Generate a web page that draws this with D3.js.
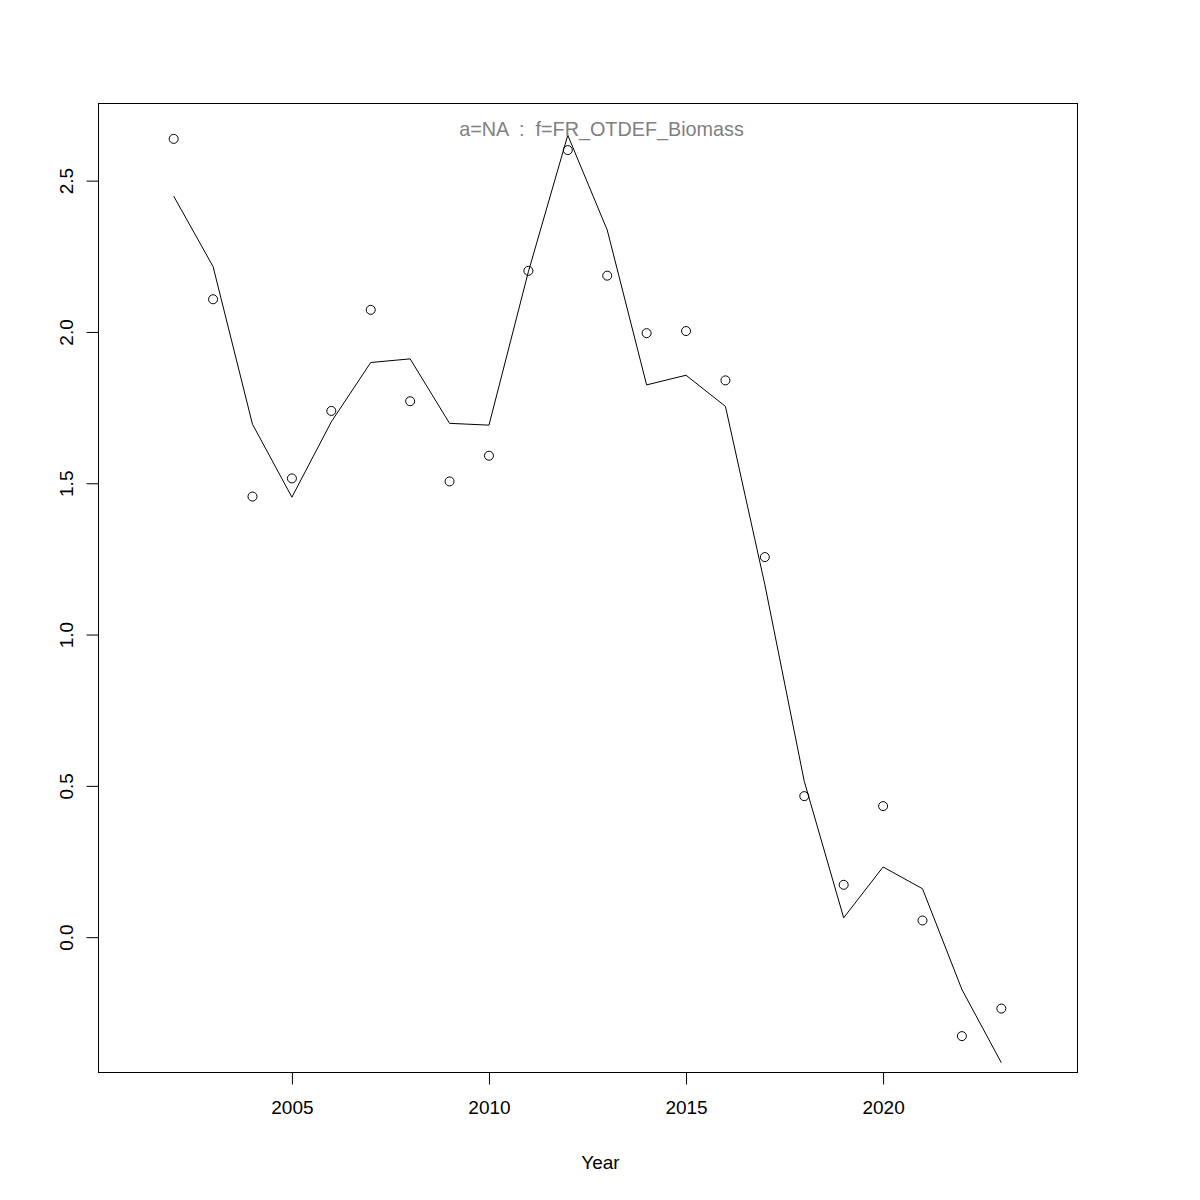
<!DOCTYPE html>
<html>
<head>
<meta charset="utf-8">
<script src="https://cdn.jsdelivr.net/npm/d3@7"></script>
<style>
  body { margin: 0; background: #fff; }
  svg { display: block; }
  text { font-family: "Liberation Sans", Arial, Helvetica, sans-serif; }
</style>
</head>
<body>
<svg id="chart" width="1200" height="1200"></svg>
<script>
// ---- data ----
const years = [2002, 2003, 2004, 2005, 2006, 2007, 2008, 2009, 2010, 2011, 2012,
               2013, 2014, 2015, 2016, 2017, 2018, 2019, 2020, 2021, 2022, 2023];
const observed = [2.638, 2.108, 1.456, 1.516, 1.739, 2.073, 1.771, 1.506, 1.591, 2.202, 2.601,
                  2.186, 1.996, 2.003, 1.840, 1.256, 0.466, 0.173, 0.433, 0.055, -0.327, -0.236];
const fitted = [2.449, 2.216, 1.695, 1.454, 1.703, 1.899, 1.911, 1.698, 1.692, 2.199, 2.650,
                2.337, 1.825, 1.857, 1.754, 1.165, 0.515, 0.064, 0.232, 0.160, -0.173, -0.415];
const xTicks = [2005, 2010, 2015, 2020];
const yTicks = [0.0, 0.5, 1.0, 1.5, 2.0, 2.5];
const titleText = "a=NA  :  f=FR_OTDEF_Biomass";
const xLabel = "Year";

// ---- layout ----
const pLeft = 98, pRight = 1077, pTop = 103, pBottom = 1072;
const ext = (lo, hi) => { const d = (hi - lo) * 0.04; return [lo - d, hi + d]; };
const xlim = ext(2001, 2024);
const ylim = ext(d3.min(observed), d3.max(observed));

const x = d3.scaleLinear().domain(xlim).range([pLeft, pRight]);
const y = d3.scaleLinear().domain(ylim).range([pBottom, pTop]);

const svg = d3.select("#chart");

// plot box
svg.append("rect")
  .attr("x", pLeft + 0.5).attr("y", pTop + 0.5)
  .attr("width", pRight - pLeft).attr("height", pBottom - pTop)
  .attr("fill", "none").attr("stroke", "#000").attr("stroke-width", 1);

// x axis
const gx = svg.append("g").attr("transform", `translate(0,${pBottom + 0.5})`)
  .call(d3.axisBottom(x).tickValues(xTicks).tickFormat(d3.format("d"))
        .tickSize(12).tickSizeOuter(0).tickPadding(16));
gx.select(".domain").attr("d", `M${x(xTicks[0])},0H${x(xTicks[xTicks.length - 1])}`)
  .attr("stroke", "#000");
gx.selectAll(".tick line").attr("stroke", "#000");
gx.selectAll(".tick text").attr("font-size", 19).attr("fill", "#000")
  .attr("font-family", "Liberation Sans, Arial, sans-serif");

// y axis
const gy = svg.append("g").attr("transform", `translate(${pLeft + 0.5},0)`)
  .call(d3.axisLeft(y).tickValues(yTicks).tickFormat(d3.format(".1f"))
        .tickSize(12).tickSizeOuter(0));
gy.select(".domain").attr("d", `M0,${y(yTicks[0])}V${y(yTicks[yTicks.length - 1])}`)
  .attr("stroke", "#000");
gy.selectAll(".tick line").attr("stroke", "#000");
gy.selectAll(".tick text")
  .attr("font-size", 19).attr("fill", "#000")
  .attr("font-family", "Liberation Sans, Arial, sans-serif")
  .attr("x", null).attr("dy", null)
  .attr("text-anchor", "middle")
  .attr("transform", "translate(-25.5,0) rotate(-90)");

// fitted line
svg.append("path")
  .datum(years.map((yr, i) => [yr, fitted[i]]))
  .attr("fill", "none").attr("stroke", "#000").attr("stroke-width", 1)
  .attr("d", d3.line().x(d => x(d[0])).y(d => y(d[1])));

// observed points
svg.append("g").selectAll("circle")
  .data(years.map((yr, i) => [yr, observed[i]]))
  .join("circle")
  .attr("cx", d => x(d[0])).attr("cy", d => y(d[1]))
  .attr("r", 4.5)
  .attr("fill", "none").attr("stroke", "#000").attr("stroke-width", 1);

// title (inside plot, gray)
svg.append("text")
  .attr("x", 601.5).attr("y", 135.5)
  .attr("text-anchor", "middle")
  .attr("font-size", 19.8).attr("fill", "#808080")
  .style("white-space", "pre")
  .attr("xml:space", "preserve")
  .text(titleText);

// x label
svg.append("text")
  .attr("x", (pLeft + pRight) / 2 + 13).attr("y", 1169)
  .attr("text-anchor", "middle")
  .attr("font-size", 19).attr("fill", "#000")
  .text(xLabel);
</script>
</body>
</html>
